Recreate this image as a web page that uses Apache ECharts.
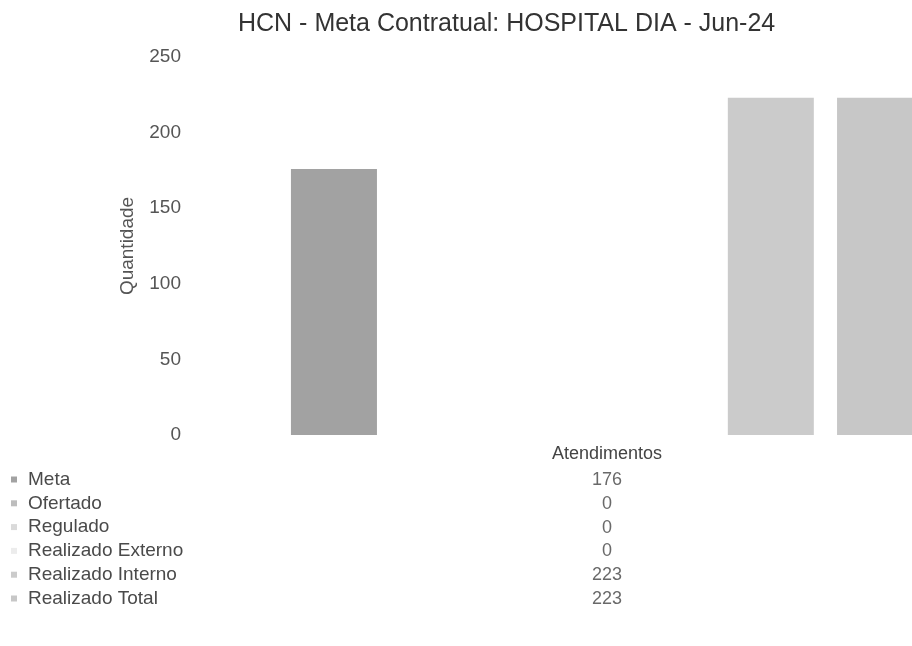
<!DOCTYPE html>
<html>
<head>
<meta charset="utf-8">
<script src="https://cdn.jsdelivr.net/npm/echarts@6/dist/echarts.min.js"></script>
<style>html,body{margin:0;padding:0;background:#fff;}#c{width:912px;height:646px;}</style>
</head>
<body>
<div id="c"></div>
<script>
var titleText = 'HCN - Meta Contratual: HOSPITAL DIA - Jun-24';
var categories = ['Atendimentos'];
var seriesNames = ['Meta', 'Ofertado', 'Regulado', 'Realizado Externo', 'Realizado Interno', 'Realizado Total'];
var seriesValues = [176, 0, 0, 0, 223, 223];
var seriesColors = ['#a2a2a2', '#bdbdbd', '#dadada', '#ececec', '#cbcbcb', '#c7c7c7'];
var yTicks = [0, 50, 100, 150, 200, 250];
var yName = 'Quantidade';

var FONT = '"Liberation Sans", Arial, sans-serif';
var chart = echarts.init(document.getElementById('c'));

var series = seriesNames.map(function (n, i) {
  return {
    name: n, type: 'bar', xAxisIndex: 0, yAxisIndex: 0, clip: false,
    barWidth: 86, barGap: '27%',
    itemStyle: { color: seriesColors[i] },
    data: [seriesValues[i]]
  };
});
series.push({
  type: 'scatter', xAxisIndex: 1, yAxisIndex: 1, symbolSize: 0,
  itemStyle: { color: 'transparent' }, silent: true,
  label: { show: true, position: 'inside', color: '#444', fontSize: 18, fontFamily: FONT,
    formatter: function (p) { return String(p.value[2]); } },
  data: seriesNames.map(function (n, i) { return [categories[0], n, seriesValues[i]]; })
});

chart.setOption({
  animation: false,
  backgroundColor: '#fff',
  title: { text: titleText, left: 233, top: 7,
    textStyle: { fontFamily: FONT, fontSize: 25, fontWeight: 'normal', color: '#333' } },
  legend: {
    data: seriesNames, orient: 'vertical', left: 6, top: 465,
    itemWidth: 6, itemHeight: 6, itemGap: 4.8, icon: 'rect',
    textStyle: { fontFamily: FONT, fontSize: 19, color: '#4a4a4a', lineHeight: 18.8, padding: [0, 0, 0, 6] }
  },
  grid: [
    { left: 302, top: 57, right: 0, height: 378 },
    { left: 302, top: 468, right: 0, height: 143 }
  ],
  xAxis: [
    { type: 'category', gridIndex: 0, data: categories,
      axisLine: { show: false }, axisTick: { show: false },
      axisLabel: { fontFamily: FONT, fontSize: 18, color: '#444', margin: 10 } },
    { type: 'category', gridIndex: 1, data: categories, show: false }
  ],
  yAxis: [
    { type: 'value', gridIndex: 0, offset: 112, min: yTicks[0], max: yTicks[yTicks.length - 1], interval: 50,
      name: yName, nameLocation: 'middle', nameGap: 53, nameRotate: 90,
      nameTextStyle: { fontFamily: FONT, fontSize: 19, color: '#555' },
      axisLine: { show: false }, axisTick: { show: false }, splitLine: { show: false },
      axisLabel: { fontFamily: FONT, fontSize: 19, color: '#555', margin: 9 } },
    { type: 'category', gridIndex: 1, data: seriesNames, inverse: true, show: false }
  ],
  series: series
});
</script>
</body>
</html>
